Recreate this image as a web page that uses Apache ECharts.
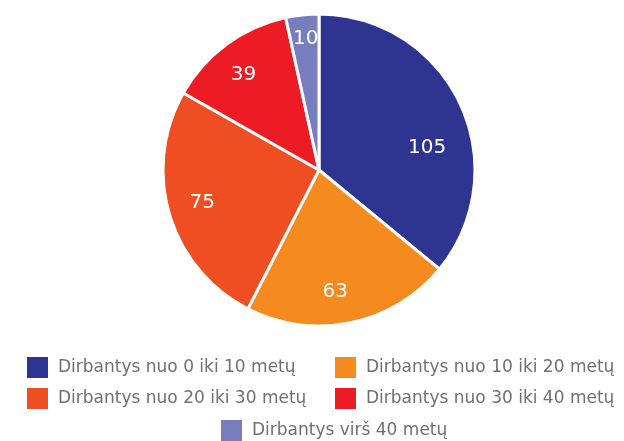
<!DOCTYPE html>
<html>
<head>
<meta charset="utf-8">
<script src="https://cdn.jsdelivr.net/npm/echarts@6/dist/echarts.min.js"></script>
<style>
  html, body { margin: 0; padding: 0; background: #fff; }
  #chart { width: 624px; height: 441px; }
</style>
</head>
<body>
<div id="chart"></div>
<script>
const categories = [
  'Dirbantys nuo 0 iki 10 metų',
  'Dirbantys nuo 10 iki 20 metų',
  'Dirbantys nuo 20 iki 30 metų',
  'Dirbantys nuo 30 iki 40 metų',
  'Dirbantys virš 40 metų'
];
const values = [105, 63, 75, 39, 10];
const colors = ['#2e3590', '#f58a1f', '#ef4e23', '#ed1c24', '#787dbd'];
// small nudges so value labels sit where the original placed them
const labelNudge = [[-4, 31], [-9, 0], [2, -3], [-2, 5], [0, -8]];

const chart = echarts.init(document.getElementById('chart'));

const pieData = categories.map((name, i) => ({ name: name, value: values[i] }));
const labelData = categories.map((name, i) => ({
  name: name,
  value: values[i],
  label: { offset: labelNudge[i] }
}));
const font = 'DejaVu Sans';

const legendBase = {
  orient: 'vertical',
  icon: 'rect',
  padding: 0,
  itemWidth: 23,
  itemHeight: 23,
  itemGap: 6,
  textStyle: { fontFamily: font, fontSize: 17, color: '#707070', padding: [0, 0, 0, 4] }
};

const option = {
  color: colors,
  animation: false,
  legend: [
    Object.assign({}, legendBase, { left: 25, top: 355, data: [categories[0], categories[2]] }),
    Object.assign({}, legendBase, { left: 333, top: 355, data: [categories[1], categories[3]] }),
    Object.assign({}, legendBase, { left: 219, top: 418, data: [categories[4]] })
  ],
  series: [
    {
      type: 'pie',
      center: [319, 170],
      radius: [0, 156],
      startAngle: 90,
      clockwise: true,
      itemStyle: { borderColor: '#fff', borderWidth: 3 },
      label: { show: false },
      labelLine: { show: false },
      data: pieData
    },
    {
      // invisible ring used only to push value labels outward
      type: 'pie',
      center: [319, 170],
      radius: [0, 242],
      startAngle: 90,
      clockwise: true,
      silent: true,
      itemStyle: { color: 'rgba(0,0,0,0)', borderWidth: 0 },
      label: {
        show: true,
        position: 'inside',
        formatter: '{c}',
        color: '#fff',
        fontFamily: font,
        fontSize: 20
      },
      labelLine: { show: false },
      data: labelData
    }
  ]
};

chart.setOption(option);
</script>
</body>
</html>
